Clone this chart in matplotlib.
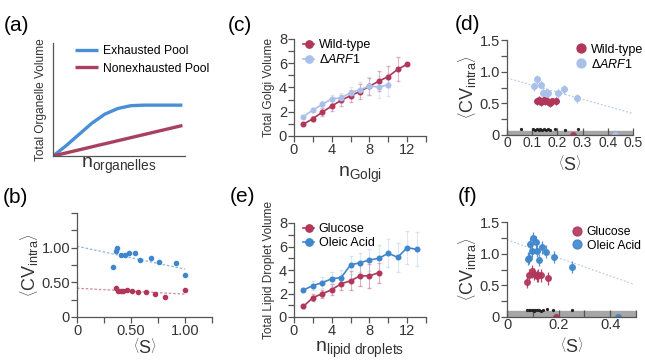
import matplotlib
matplotlib.use("Agg")
import matplotlib.pyplot as plt
import numpy as np

plt.rcParams["font.family"] = ["Liberation Sans", "DejaVu Sans"]
plt.rcParams["mathtext.fontset"] = "custom"
plt.rcParams["mathtext.rm"] = "Liberation Sans"
plt.rcParams["mathtext.it"] = "Liberation Sans:italic"
plt.rcParams["mathtext.default"] = "regular"

# ---- data ----
# (a) schematic curves
a_x = [0, 0.1, 0.2, 0.3, 0.35, 0.4, 0.5, 0.6, 0.7, 0.8, 0.9, 1.0]
a_exhausted = [0, 0.09, 0.19, 0.29, 0.33, 0.37, 0.42, 0.445, 0.45, 0.45, 0.45, 0.45]
a_nonexhausted = [0, 0.027, 0.054, 0.081, 0.095, 0.108, 0.135, 0.162, 0.189, 0.216, 0.243, 0.27]

# (b)
b_s_blue = [0.336, 0.358, 0.37, 0.404, 0.444, 0.481, 0.537, 0.583, 0.685, 0.759, 0.914, 1.0]
b_cv_blue = [0.715, 0.947, 0.995, 0.89, 0.89, 0.92, 0.92, 0.826, 0.85, 0.787, 0.773, 0.60]
b_s_red = [0.358, 0.383, 0.404, 0.429, 0.466, 0.506, 0.562, 0.636, 0.722, 0.815, 1.0]
b_cv_red = [0.425, 0.377, 0.381, 0.381, 0.386, 0.377, 0.367, 0.357, 0.328, 0.295, 0.39]
b_fit_x = [0, 1.0]
b_fit_blue = [1.02, 0.69]
b_fit_red = [0.415, 0.33]

# (c)
c_n_wt = list(range(1, 13))
c_wt = [0.98, 1.42, 1.97, 2.47, 2.94, 3.33, 3.67, 4.1, 4.53, 4.9, 5.5, 5.92]
c_wt_err = [0.1, 0.2, 0.3, 0.4, 0.45, 0.5, 0.6, 0.7, 0.8, 0.9, 1.0, 0.05]
c_n_arf = list(range(1, 11))
c_arf = [1.6, 2.14, 2.6, 3.06, 3.14, 3.58, 3.83, 4.1, 4.05, 4.22]
c_arf_err = [0.1, 0.15, 0.25, 0.35, 0.4, 0.45, 0.6, 0.75, 0.9, 0.95]

# (d)
d_s_wt = [0.12, 0.128, 0.135, 0.145, 0.15, 0.16, 0.17, 0.18, 0.195]
d_cv_wt = [0.53, 0.55, 0.52, 0.55, 0.53, 0.54, 0.51, 0.53, 0.54]
d_s_arf = [0.108, 0.118, 0.135, 0.144, 0.155, 0.164, 0.201, 0.228, 0.279]
d_cv_arf = [0.77, 0.88, 0.79, 0.67, 0.67, 0.66, 0.66, 0.72, 0.58]
d_fit_x = [0, 0.5]
d_fit_y = [0.9, 0.34]
d_bg_s = [0.056, 0.104, 0.11, 0.118, 0.125, 0.132, 0.14, 0.148, 0.155, 0.162, 0.17, 0.19, 0.23, 0.283]
d_bg_cv = [0.1, 0.09, 0.085, 0.09, 0.085, 0.09, 0.085, 0.09, 0.085, 0.09, 0.085, 0.09, 0.085, 0.09]
d_zero_s = [0.263, 0.43]

# (e)
e_n_glu = list(range(1, 10))
e_glu = [0.9, 1.65, 1.98, 2.32, 2.83, 3.08, 3.5, 3.5, 3.78]
e_glu_err = [0.1, 0.3, 0.35, 0.45, 0.5, 0.8, 0.9, 1.0, 0.85]
e_n_ole = list(range(1, 14))
e_ole = [2.3, 2.67, 2.93, 3.25, 3.36, 4.43, 4.62, 4.85, 5.0, 5.42, 5.08, 5.9, 5.76]
e_ole_err = [0.2, 0.4, 0.5, 0.6, 0.65, 0.8, 0.8, 0.9, 1.1, 1.2, 1.25, 1.4, 1.45]

# (f)
f_s_glu = [0.078, 0.085, 0.095, 0.104, 0.115, 0.12, 0.132, 0.16]
f_cv_glu = [0.56, 0.66, 0.72, 0.68, 0.65, 0.66, 0.66, 0.61]
f_s_ole = [0.08, 0.085, 0.09, 0.096, 0.102, 0.113, 0.118, 0.124, 0.135, 0.15, 0.184, 0.251]
f_cv_ole = [0.92, 0.93, 1.15, 1.05, 1.25, 1.18, 1.04, 0.9, 1.1, 1.03, 0.95, 0.79]
f_fit_x = [0, 0.49]
f_fit_y = [1.22, 0.52]
f_bg_s = [0.077, 0.085, 0.09, 0.095, 0.1, 0.105, 0.11, 0.118, 0.125, 0.132, 0.14, 0.154, 0.18, 0.251]
f_bg_cv = [0.11, 0.105, 0.11, 0.105, 0.11, 0.1, 0.11, 0.105, 0.11, 0.1, 0.11, 0.12, 0.11, 0.11]
f_zero_s = [0.19, 0.43]

RED = "#b0365a"
LBLUE = "#a9c1ea"
BLUE = "#3f86cc"
AXC = "#555555"
TXT = "#333333"
TICKFS = 10.5

W, H = 645, 362
fig = plt.figure(figsize=(W / 100, H / 100), dpi=100)


def rect(x0, y0, x1, y1):
    return [x0 / W, 1 - y1 / H, (x1 - x0) / W, (y1 - y0) / H]


def style(ax, tick_in_x=False):
    for s in ["top", "right"]:
        ax.spines[s].set_visible(False)
    for s in ["left", "bottom"]:
        ax.spines[s].set_color(AXC)
        ax.spines[s].set_linewidth(0.9)
    ax.tick_params(colors=AXC, labelcolor=TXT, labelsize=TICKFS, length=4, width=0.9, pad=1)
    if tick_in_x:
        ax.tick_params(axis="x", direction="in", length=5)


def small_legend(ax, handles, labels, x, y, fs=9):
    ax.legend(handles, labels, loc="upper left", bbox_to_anchor=(x, y), frameon=False,
              fontsize=fs, handlelength=0.9, handletextpad=0.35, labelspacing=0.15,
              borderpad=0, borderaxespad=0, markerscale=1.6)


CV = r"$\left\langle \mathrm{CV}_{\mathrm{intra}} \right\rangle$"
S = r"$\left\langle \mathrm{S} \right\rangle$"

# ---- (a) ----
ax = fig.add_axes(rect(53, 43, 185, 156))
style(ax)
ax.plot(a_x, a_exhausted, color="#4a8fd6", lw=2.4, label="Exhausted Pool", solid_capstyle="butt")
ax.plot(a_x, a_nonexhausted, color="#a8405f", lw=2.4, label="Nonexhausted Pool", solid_capstyle="butt")
ax.set_xlim(0, 1.02)
ax.set_ylim(0, 1)
ax.set_xticks([])
ax.set_yticks([])
ax.set_ylabel("Total Organelle Volume", fontsize=8.6, color=TXT, labelpad=4)
ax.set_xlabel(r"$n_{organelles}$", fontsize=14, color=TXT, labelpad=0)
ax.legend(loc="upper left", bbox_to_anchor=(0.17, 0.98), frameon=False, fontsize=8.7,
          handlelength=1.9, handletextpad=0.4, labelspacing=0.45, borderpad=0, borderaxespad=0)
fig.text(4 / W, 1 - 31 / H, "(a)", fontsize=15)

# ---- (b) ----
ax = fig.add_axes(rect(77, 213, 212, 317))
style(ax)
ax.plot(b_fit_x, b_fit_blue, ls=(0, (2, 1.5)), color=BLUE, lw=0.9, alpha=0.6)
ax.plot(b_fit_x, b_fit_red, ls=(0, (2, 1.5)), color=RED, lw=0.9, alpha=0.6)
ax.plot(b_s_blue, b_cv_blue, "o", color=BLUE, ms=3)
ax.plot(b_s_red, b_cv_red, "o", color=RED, ms=3)
ax.set_xlim(0, 1.25)
ax.set_ylim(0, 1.5)
ax.set_xticks(np.arange(0, 1.26, 0.25))
ax.set_xticklabels(["0", "", "0.50", "", "1.00", ""])
ax.set_yticks(np.arange(0, 1.51, 0.25))
ax.set_yticklabels(["0", "", "0.50", "", "1.00", "", ""])
ax.set_ylabel(CV, fontsize=13, color=TXT, labelpad=1)
ax.set_xlabel(S, fontsize=13, color=TXT, labelpad=0)
fig.text(3 / W, 1 - 203 / H, "(b)", fontsize=15)

# ---- (c) ----
ax = fig.add_axes(rect(294, 39, 426, 136))
style(ax)
ax.errorbar(c_n_wt, c_wt, yerr=c_wt_err, fmt="-o", color=RED, ms=3.3, lw=1.2,
            ecolor=RED, elinewidth=0.8, capsize=1.2, label="Wild-type")
ax.errorbar(c_n_arf, c_arf, yerr=c_arf_err, fmt="-o", color=LBLUE, ms=3.3, lw=1.2,
            ecolor=LBLUE, elinewidth=0.8, capsize=1.2, label=r"$\Delta\mathit{ARF1}$")
for cont in ax.containers:
    for part in cont[1] + cont[2]:
        part.set_alpha(0.35)
ax.set_xlim(0, 14)
ax.set_ylim(0, 8)
ax.set_xticks(range(0, 15, 2))
ax.set_xticklabels(["0", "", "4", "", "8", "", "12", ""])
ax.set_yticks(range(0, 9))
ax.set_yticklabels(["0", "", "2", "", "4", "", "6", "", "8"])
ax.set_ylabel("Total Golgi Volume", fontsize=8.6, color=TXT, labelpad=3)
ax.set_xlabel(r"$n_{Golgi}$", fontsize=14, color=TXT, labelpad=6)
h, l = ax.get_legend_handles_labels()
small_legend(ax, [x[0] for x in h], l, 0.07, 1.0)
fig.text(228 / W, 1 - 31 / H, "(c)", fontsize=15)

# ---- (d) ----
ax = fig.add_axes(rect(507, 40, 633, 135))
style(ax, tick_in_x=True)
ax.tick_params(axis="x", labelsize=10)
ax.axhspan(0, 0.065, color="#a6a6a6", zorder=0)
ax.plot(d_fit_x, d_fit_y, ls=(0, (1.5, 1.5)), color=LBLUE, lw=0.9, alpha=0.8)
ax.plot(d_bg_s, d_bg_cv, "o", color="#222222", ms=1.3)
ax.errorbar(d_s_arf, d_cv_arf, yerr=0.07, xerr=0.006, fmt="o", color=LBLUE, ms=4,
            ecolor=LBLUE, elinewidth=0.9, label=r"$\Delta\mathit{ARF1}$")
ax.errorbar(d_s_wt, d_cv_wt, yerr=0.06, xerr=0.006, fmt="o", color=RED, ms=4,
            ecolor=RED, elinewidth=0.9, label="Wild-type")
ax.plot([d_zero_s[0]], [0], "o", color=RED, ms=4)
ax.plot([d_zero_s[1]], [0], "o", color=LBLUE, ms=4)
ax.set_xlim(0, 0.5)
ax.set_ylim(0, 1.5)
ax.set_xticks(np.arange(0, 0.51, 0.1))
ax.set_xticklabels(["0", "0.1", "0.2", "0.3", "0.4", "0.5"])
ax.set_yticks(np.arange(0, 1.51, 0.25))
ax.set_yticklabels(["0", "", "0.5", "", "1.0", "", "1.5"])
ax.set_ylabel(CV, fontsize=13, color=TXT, labelpad=1)
ax.set_xlabel(S, fontsize=13, color=TXT, labelpad=3)
h, l = ax.get_legend_handles_labels()
small_legend(ax, [h[1][0], h[0][0]], [l[1], l[0]], 0.545, 0.96)
fig.text(455 / W, 1 - 30 / H, "(d)", fontsize=15)

# ---- (e) ----
ax = fig.add_axes(rect(294, 223, 426, 317))
style(ax)
ax.errorbar(e_n_glu, e_glu, yerr=e_glu_err, fmt="-o", color=RED, ms=3.3, lw=1.2,
            ecolor=RED, elinewidth=0.8, capsize=1.2, label="Glucose")
ax.errorbar(e_n_ole, e_ole, yerr=e_ole_err, fmt="-o", color=BLUE, ms=3.3, lw=1.2,
            ecolor=LBLUE, elinewidth=0.8, capsize=1.2, label="Oleic Acid")
for cont in ax.containers:
    for part in cont[1] + cont[2]:
        part.set_alpha(0.4)
ax.set_xlim(0, 14)
ax.set_ylim(0, 8)
ax.set_xticks(range(0, 15, 2))
ax.set_xticklabels(["0", "", "4", "", "8", "", "12", ""])
ax.set_yticks(range(0, 9))
ax.set_yticklabels(["0", "", "2", "", "4", "", "6", "", "8"])
ax.set_ylabel("Total Lipid Droplet Volume", fontsize=8.6, color=TXT, labelpad=3)
ax.set_xlabel(r"$n_{lipid\ droplets}$", fontsize=14, color=TXT, labelpad=1)
h, l = ax.get_legend_handles_labels()
small_legend(ax, [x[0] for x in h], l, 0.07, 1.0)
fig.text(230 / W, 1 - 202 / H, "(e)", fontsize=15)

# ---- (f) ----
ax = fig.add_axes(rect(507, 222, 636, 317))
style(ax, tick_in_x=True)
ax.axhspan(0, 0.09, color="#a6a6a6", zorder=0)
ax.plot(f_fit_x, f_fit_y, ls=(0, (1.5, 1.5)), color=LBLUE, lw=0.9, alpha=0.8)
ax.plot(f_bg_s, f_bg_cv, "o", color="#222222", ms=1.3)
ax.errorbar(f_s_ole, f_cv_ole, yerr=0.1, xerr=0.006, fmt="o", color=BLUE, ms=4,
            ecolor=BLUE, elinewidth=0.9, alpha=0.9, label="Oleic Acid")
ax.errorbar(f_s_glu, f_cv_glu, yerr=0.1, fmt="o", color=RED, ms=4,
            ecolor=RED, elinewidth=0.9, alpha=0.9, label="Glucose")
ax.plot([f_zero_s[0]], [0], "o", color=RED, ms=4)
ax.plot([f_zero_s[1]], [0], "o", color=BLUE, ms=4)
ax.set_xlim(0, 0.5)
ax.set_ylim(0, 1.5)
ax.set_xticks(np.arange(0, 0.51, 0.1))
ax.set_xticklabels(["0", "", "0.2", "", "0.4", ""])
ax.set_yticks(np.arange(0, 1.51, 0.25))
ax.set_yticklabels(["0", "", "0.5", "", "1.0", "", "1.5"])
ax.set_ylabel(CV, fontsize=13, color=TXT, labelpad=1)
ax.set_xlabel(S, fontsize=13, color=TXT, labelpad=3)
h, l = ax.get_legend_handles_labels()
small_legend(ax, [h[1][0], h[0][0]], [l[1], l[0]], 0.5, 0.96, fs=8.7)
fig.text(458 / W, 1 - 202 / H, "(f)", fontsize=15)

fig.savefig("out.png", dpi=100)
